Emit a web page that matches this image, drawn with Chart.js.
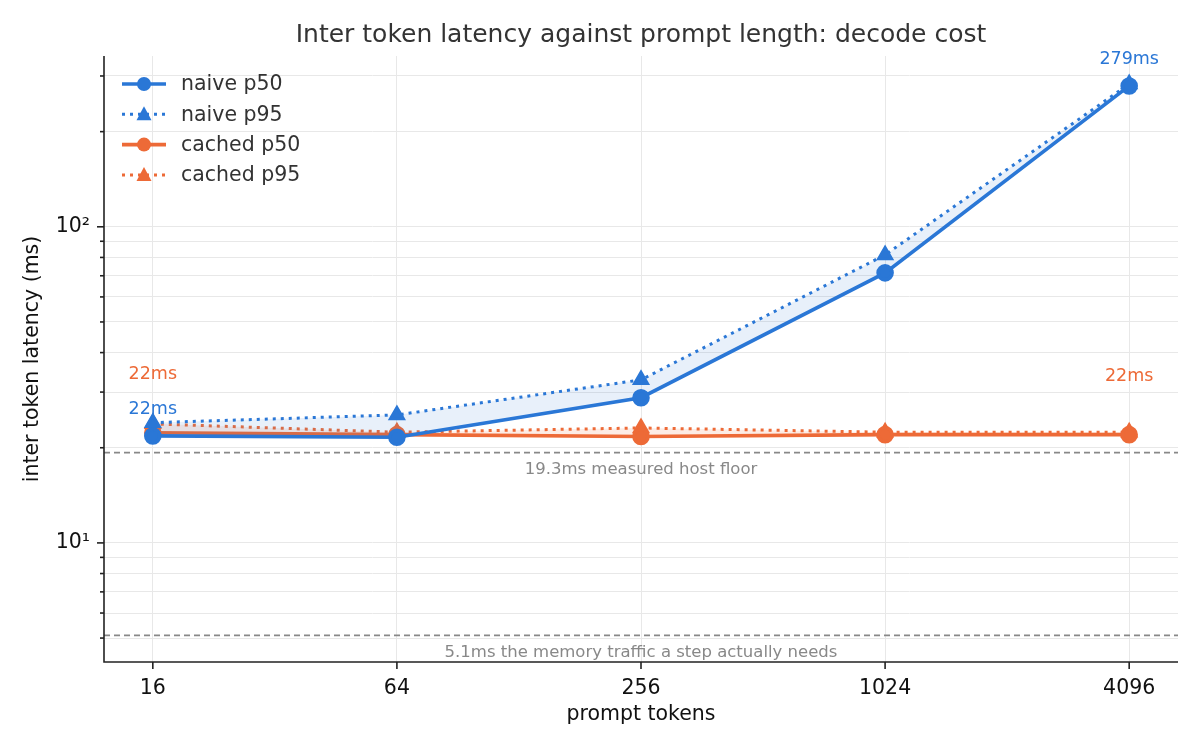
<!DOCTYPE html>
<html lang="en">
<head>
  <meta charset="UTF-8" />
  <title>Inter token latency against prompt length</title>
  <script src="https://cdn.jsdelivr.net/npm/chart.js"></script>
  <style>
    html, body { margin: 0; background: #fff; }
    .wrap { width: 1200px; height: 750px; position: relative; }
  </style>
</head>
<body>
<div class="wrap"><canvas id="latency" width="1200" height="750"></canvas></div>

<script>
  // data
  const promptTokens = ['16', '64', '256', '1024', '4096'];
  const naiveP50  = [21.8, 21.6, 28.8, 71.5, 279];
  const naiveP95  = [24.0, 25.4, 32.8, 81.5, 283];
  const cachedP50 = [22.3, 22.0, 21.7, 22.0, 22.0];
  const cachedP95 = [23.8, 22.4, 23.1, 22.4, 22.4];
  const floorValues = [19.3, 5.1];
  const floorLabels = ['19.3ms measured host floor', '5.1ms the memory traffic a step actually needs'];
  const yMajorTicks = [10, 100];
  const yMajorLabels = ['10\u00b9', '10\u00b2'];

  const BLUE = '#2a77d6';
  const ORANGE = '#ed6a37';
  const FONT = '"DejaVu Sans", sans-serif';

  const pts = arr => arr.map((v, i) => ({ x: i, y: v }));

  // horizontal reference lines, tick marks, titles, annotations, legend
  const decor = {
    id: 'decor',
    beforeDatasetsDraw(chart) {
      const { ctx, chartArea: a, scales: { x, y } } = chart;
      ctx.save();
      ctx.strokeStyle = '#888';
      ctx.lineWidth = 1.6;
      ctx.setLineDash([6, 4]);
      floorValues.forEach(v => {
        const py = y.getPixelForValue(v);
        ctx.beginPath();
        ctx.moveTo(a.left, py);
        ctx.lineTo(a.right, py);
        ctx.stroke();
      });
      ctx.setLineDash([]);
      ctx.fillStyle = '#888';
      ctx.font = '16.5px ' + FONT;
      ctx.textAlign = 'center';
      ctx.textBaseline = 'middle';
      floorValues.forEach((v, i) => {
        const py = y.getPixelForValue(v);
        ctx.fillText(floorLabels[i], x.getPixelForValue(2), py + 17);
      });
      ctx.restore();
    },
    afterDraw(chart) {
      const { ctx, chartArea: a, scales: { x, y } } = chart;
      ctx.save();
      // spines
      ctx.strokeStyle = '#222';
      ctx.lineWidth = 1.6;
      ctx.beginPath();
      ctx.moveTo(a.left, a.top);
      ctx.lineTo(a.left, a.bottom);
      ctx.lineTo(a.right, a.bottom);
      ctx.stroke();
      // y tick marks
      y.ticks.forEach(t => {
        const py = y.getPixelForValue(t.value);
        const len = yMajorTicks.includes(t.value) ? 7 : 4;
        ctx.beginPath();
        ctx.moveTo(a.left - len, py);
        ctx.lineTo(a.left, py);
        ctx.stroke();
      });
      // x tick marks
      promptTokens.forEach((_, i) => {
        const px = x.getPixelForValue(i);
        ctx.beginPath();
        ctx.moveTo(px, a.bottom);
        ctx.lineTo(px, a.bottom + 7);
        ctx.stroke();
      });

      // titles
      ctx.fillStyle = '#333';
      ctx.textAlign = 'center';
      ctx.textBaseline = 'middle';
      ctx.font = '25px ' + FONT;
      ctx.fillText('Inter token latency against prompt length: decode cost', (a.left + a.right) / 2, 35);
      ctx.fillStyle = '#111';
      ctx.font = '20.5px ' + FONT;
      ctx.fillText('prompt tokens', (a.left + a.right) / 2, 715);
      ctx.save();
      ctx.translate(33, (a.top + a.bottom) / 2);
      ctx.rotate(-Math.PI / 2);
      ctx.fillText('inter token latency (ms)', 0, 0);
      ctx.restore();

      // value annotations on first and last p50 points
      ctx.font = '17.5px ' + FONT;
      const notes = [[naiveP50, BLUE, 26], [cachedP50, ORANGE, 58]];
      notes.forEach(([arr, col, off]) => {
        ctx.fillStyle = col;
        [0, arr.length - 1].forEach(i => {
          const px = x.getPixelForValue(i);
          const py = y.getPixelForValue(arr[i]);
          ctx.fillText(Math.round(arr[i]) + 'ms', px, py - off);
        });
      });

      // legend
      ctx.textAlign = 'left';
      ctx.font = '20.5px ' + FONT;
      chart.data.datasets.forEach((ds, i) => {
        const ly = 84 + i * 30.3;
        const lx = 122;
        ctx.strokeStyle = ds.borderColor;
        ctx.lineWidth = ds.borderWidth;
        ctx.setLineDash(ds.borderDash || []);
        ctx.beginPath();
        ctx.moveTo(lx, ly);
        ctx.lineTo(lx + 44, ly);
        ctx.stroke();
        ctx.setLineDash([]);
        ctx.fillStyle = ds.borderColor;
        const cx = lx + 22;
        ctx.beginPath();
        if (ds.pointStyle === 'triangle') {
          ctx.moveTo(cx, ly - 8);
          ctx.lineTo(cx + 7.5, ly + 6);
          ctx.lineTo(cx - 7.5, ly + 6);
          ctx.closePath();
        } else {
          ctx.arc(cx, ly, 7, 0, Math.PI * 2);
        }
        ctx.fill();
        ctx.fillStyle = '#333';
        ctx.fillText(ds.label, lx + 59, ly + 1);
      });
      ctx.restore();
    }
  };

  new Chart(document.getElementById('latency'), {
    type: 'line',
    data: {
      datasets: [
        {
          label: 'naive p50', data: pts(naiveP50),
          borderColor: BLUE, backgroundColor: BLUE, borderWidth: 3.6,
          pointStyle: 'circle', pointRadius: 7, fill: false
        },
        {
          label: 'naive p95', data: pts(naiveP95),
          borderColor: BLUE, backgroundColor: 'rgba(42,119,214,0.11)', borderWidth: 3,
          borderDash: [3, 5], pointStyle: 'triangle', pointRadius: 7.5,
          pointBackgroundColor: BLUE, fill: '-1'
        },
        {
          label: 'cached p50', data: pts(cachedP50),
          borderColor: ORANGE, backgroundColor: ORANGE, borderWidth: 3.6,
          pointStyle: 'circle', pointRadius: 7, fill: false
        },
        {
          label: 'cached p95', data: pts(cachedP95),
          borderColor: ORANGE, backgroundColor: 'rgba(237,106,55,0.13)', borderWidth: 3,
          borderDash: [3, 5], pointStyle: 'triangle', pointRadius: 7.5,
          pointBackgroundColor: ORANGE, fill: '-1'
        }
      ]
    },
    options: {
      responsive: false,
      animation: false,
      devicePixelRatio: 1,
      layout: { padding: { top: 56, right: 22, left: 0, bottom: 0 } },
      plugins: { legend: { display: false }, tooltip: { enabled: false } },
      elements: { line: { tension: 0 }, point: { borderWidth: 0 } },
      scales: {
        x: {
          type: 'linear', min: -0.2, max: 4.2,
          afterFit: s => { s.height = 88; },
          afterBuildTicks: s => { s.ticks = promptTokens.map((_, i) => ({ value: i })); },
          grid: { color: '#e8e8e8', drawTicks: false },
          border: { display: false },
          ticks: {
            padding: 14, color: '#111', font: { size: 20.5, family: FONT },
            autoSkip: false, maxRotation: 0,
            callback: v => promptTokens[v]
          }
        },
        y: {
          type: 'logarithmic', min: 4.2, max: 347,
          afterFit: s => { s.width = 104; },
          afterBuildTicks: s => {
            const t = [];
            for (let d = 1; d <= 100; d *= 10) {
              for (let m = 1; m <= 9; m++) {
                const v = m * d;
                if (v >= s.min && v <= s.max) t.push({ value: v });
              }
            }
            s.ticks = t;
          },
          grid: { color: '#e8e8e8', drawTicks: false },
          border: { display: false },
          ticks: {
            padding: 14, color: '#111', font: { size: 20.5, family: FONT },
            autoSkip: false,
            callback: v => {
              const k = yMajorTicks.indexOf(v);
              return k >= 0 ? yMajorLabels[k] : '';
            }
          }
        }
      }
    },
    plugins: [decor]
  });
</script>
</body>
</html>
